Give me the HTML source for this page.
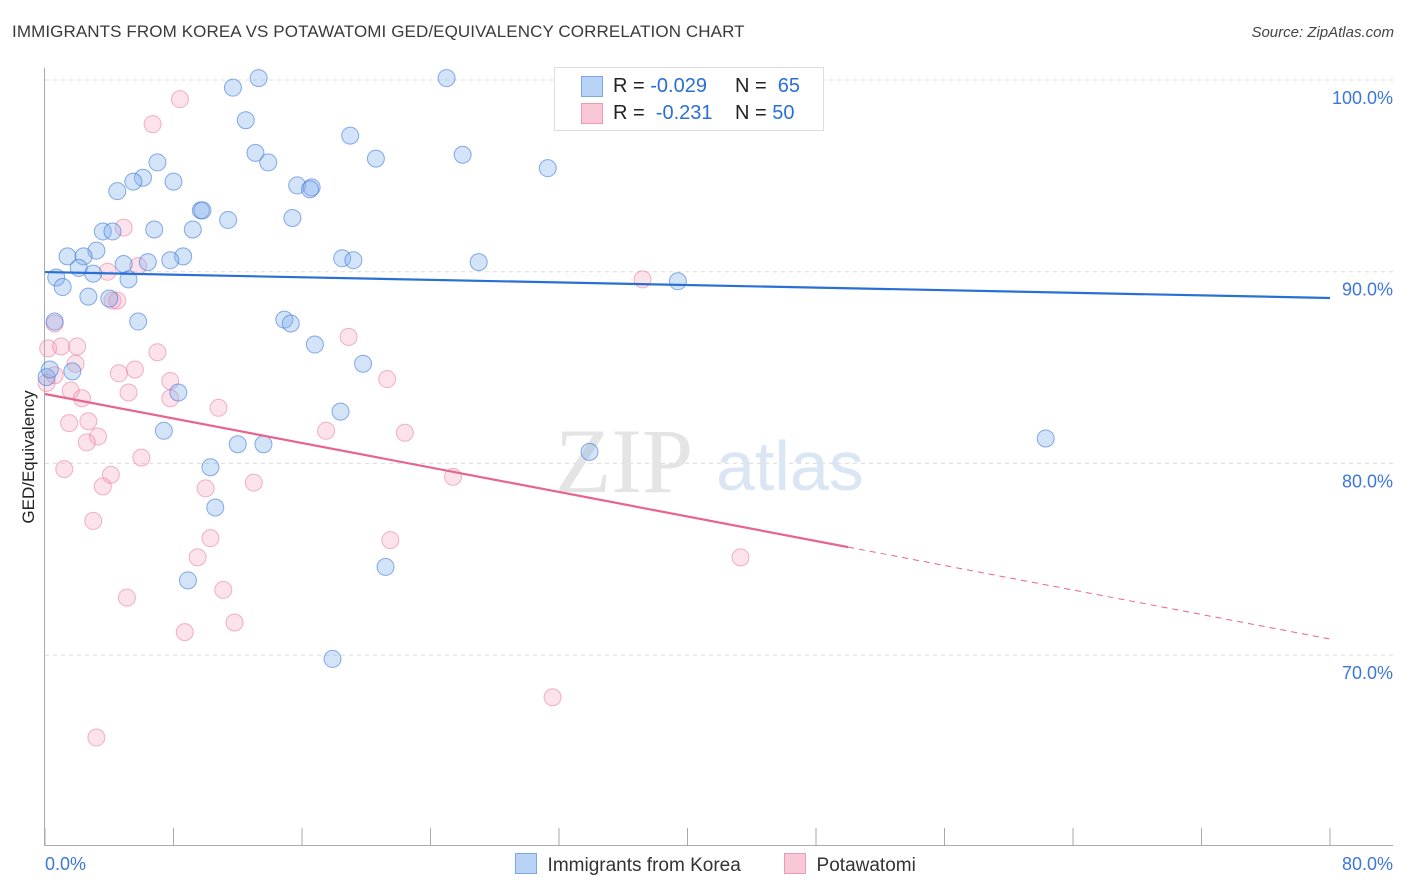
<!DOCTYPE html>
<html><head><meta charset="utf-8"><style>
body{margin:0;background:#fff;font-family:"Liberation Sans",sans-serif;}
#wrap{position:relative;width:1406px;height:892px;overflow:hidden;}
</style></head><body>
<div id="wrap">
<div style="position:absolute;left:12px;top:22px;font-size:17px;color:#3a3a3a;letter-spacing:0.1px">IMMIGRANTS FROM KOREA VS POTAWATOMI GED/EQUIVALENCY CORRELATION CHART</div>
<div style="position:absolute;right:12px;top:24px;font-size:15px;color:#444;font-style:italic">Source: ZipAtlas.com</div>
<svg id="svg" width="1406" height="892" style="position:absolute;left:0;top:0"></svg>
</div>
<script>
const koreaX=[11.7,13.3,25.0,12.5,19.0,7.0,13.1,13.9,20.6,26.0,31.3,6.1,5.5,8.0,4.5,15.7,16.6,16.5,9.7,9.8,11.4,15.4,3.6,4.2,6.8,9.2,3.2,1.4,2.4,8.6,18.5,19.2,27.0,6.4,7.8,4.9,2.1,3.0,0.7,5.2,39.4,1.1,2.7,4.0,5.8,0.6,14.9,15.3,16.8,19.8,1.7,8.3,18.4,7.4,12.0,13.6,33.9,62.3,10.3,10.6,21.2,8.9,17.9,0.1,0.3];
const koreaY=[99.6,100.1,100.1,97.9,97.1,95.7,96.2,95.7,95.9,96.1,95.4,94.9,94.7,94.7,94.2,94.5,94.4,94.3,93.2,93.2,92.7,92.8,92.1,92.1,92.2,92.2,91.1,90.8,90.8,90.8,90.7,90.6,90.5,90.5,90.6,90.4,90.2,89.9,89.7,89.6,89.5,89.2,88.7,88.6,87.4,87.4,87.5,87.3,86.2,85.2,84.8,83.7,82.7,81.7,81.0,81.0,80.6,81.3,79.8,77.7,74.6,73.9,69.8,84.5,84.9];
const potaX=[8.4,6.7,4.9,5.8,3.9,4.2,4.5,37.2,0.6,18.9,0.2,1.0,2.0,7.0,1.9,5.6,4.6,0.6,7.8,21.3,5.2,1.6,2.3,7.8,10.8,17.5,1.5,2.7,3.3,2.6,22.4,6.0,1.2,4.1,25.4,13.0,3.6,10.0,3.0,10.3,21.5,9.5,43.3,11.1,5.1,11.8,8.7,31.6,3.2,0.1];
const potaY=[99.0,97.7,92.3,90.3,90.0,88.5,88.5,89.6,87.3,86.6,86.0,86.1,86.1,85.8,85.2,84.9,84.7,84.6,84.3,84.4,83.7,83.8,83.4,83.4,82.9,81.7,82.1,82.2,81.4,81.1,81.6,80.3,79.7,79.4,79.3,79.0,78.8,78.7,77.0,76.1,76.0,75.1,75.1,73.4,73.0,71.7,71.2,67.8,65.7,84.2];
const yTicks=[100,90,80,70];
const yTickLabels=["100.0%","90.0%","80.0%","70.0%"];
const xTickLabels=["0.0%","80.0%"];
const koreaTrend=[89.98,88.63];
const potaTrend=[83.62,70.84];
const potaSolidEnd=50;

const NS="http://www.w3.org/2000/svg";
const svg=document.getElementById('svg');
const X=v=>45+v*16.0625;
const Y=v=>80+(100-v)*19.17;
function mk(t,a,p){const e=document.createElementNS(NS,t);for(const k in a)e.setAttribute(k,a[k]);(p||svg).appendChild(e);return e;}

// gridlines
yTicks.forEach((t,i)=>{
  const g=mk('line',{x1:45,x2:1393,y1:Y(t),y2:Y(t),stroke:'#dcdcdc','stroke-dasharray':'4,4','stroke-width':1});
  
  
  const tx=mk('text',{x:1393,y:Y(t)+24,'text-anchor':'end','font-size':18,fill:'#3c78d8','font-family':'Liberation Sans, sans-serif'});
  tx.textContent=yTickLabels[i];
  
  
});
// axes
const ax=mk('line',{x1:44.5,x2:44.5,y1:68,y2:845,stroke:'#aaa'});


const bx=mk('line',{x1:44,x2:1393,y1:845.5,y2:845.5,stroke:'#aaa'});


for(let i=0;i<=10;i++){
  const t=mk('line',{x1:X(i*8),x2:X(i*8),y1:828,y2:845,stroke:'#aaa'});
  
  
}
[[0,'start',45],[80,'end',1393]].forEach((d,i)=>{
  const t=mk('text',{x:d[2],y:870,'text-anchor':d[1],'font-size':18,fill:'#3c78d8','font-family':'Liberation Sans, sans-serif'});
  t.textContent=xTickLabels[i];
  
  
});
const yt=mk('text',{x:34,y:457,'text-anchor':'middle','font-size':17,fill:'#222',transform:'rotate(-90 34 457)','font-family':'Liberation Sans, sans-serif'});
yt.textContent='GED/Equivalency';


// watermark
const wm=mk('text',{x:555,y:492,'font-size':92,fill:'#e4e4e4','font-family':'Liberation Serif, serif'});
wm.textContent='ZIP';


const wm2=mk('text',{x:716,y:490,'font-size':70,fill:'#dbe6f5','font-family':'Liberation Sans, sans-serif'});
wm2.textContent='atlas';


// points
potaX.forEach((x,i)=>{
  const c=mk('circle',{cx:X(x),cy:Y(potaY[i]),r:8.5,fill:'rgba(244,160,186,0.3)',stroke:'rgba(232,120,155,0.55)','stroke-width':1});
  
  
});
koreaX.forEach((x,i)=>{
  const c=mk('circle',{cx:X(x),cy:Y(koreaY[i]),r:8.5,fill:'rgba(130,175,235,0.35)',stroke:'rgba(60,120,216,0.6)','stroke-width':1});
  
  
});
// trend lines
const kl=mk('line',{x1:X(0),y1:Y(koreaTrend[0]),x2:X(80),y2:Y(koreaTrend[1]),stroke:'#2a6fd6','stroke-width':2.2});


const pe=potaTrend[0]+(potaTrend[1]-potaTrend[0])*potaSolidEnd/80;
const pl=mk('line',{x1:X(0),y1:Y(potaTrend[0]),x2:X(potaSolidEnd),y2:Y(pe),stroke:'#e8648f','stroke-width':2.2});


const pd=mk('line',{x1:X(potaSolidEnd),y1:Y(pe),x2:X(80),y2:Y(potaTrend[1]),stroke:'#e8648f','stroke-width':1,'stroke-dasharray':'6,5'});


</script>
<div style="position:absolute;left:554px;top:67px;width:268px;height:62px;border:1px solid #ddd;background:rgba(255,255,255,0.9);font-size:20px;">
 <div style="position:absolute;left:26px;top:8px;width:20px;height:19px;background:#b8d3f5;border:1px solid #7aa7e6"></div>
 <div style="position:absolute;left:58px;top:7px;color:#222">R = <span style="color:#2a6fd6">-0.029</span></div>
 <div style="position:absolute;left:180px;top:7px;color:#222">N = <span style="color:#2a6fd6">&nbsp;65</span></div>
 <div style="position:absolute;left:26px;top:35px;width:20px;height:19px;background:#f9c8d6;border:1px solid #ee9ab4"></div>
 <div style="position:absolute;left:58px;top:34px;color:#222">R = &nbsp;<span style="color:#2a6fd6">-0.231</span></div>
 <div style="position:absolute;left:180px;top:34px;color:#222">N = <span style="color:#2a6fd6">50</span></div>
</div>
<div style="position:absolute;left:515px;top:853px;font-size:19px;color:#333;">
 <span style="position:absolute;left:0;top:0;white-space:nowrap"><span style="display:inline-block;width:20px;height:19px;background:#b8d3f5;border:1px solid #7aa7e6;vertical-align:-3px"></span>&nbsp; Immigrants from Korea</span>
 <span style="position:absolute;left:269px;top:0;white-space:nowrap"><span style="display:inline-block;width:20px;height:19px;background:#f9c8d6;border:1px solid #ee9ab4;vertical-align:-3px"></span>&nbsp; Potawatomi</span>
</div>
</body></html>
